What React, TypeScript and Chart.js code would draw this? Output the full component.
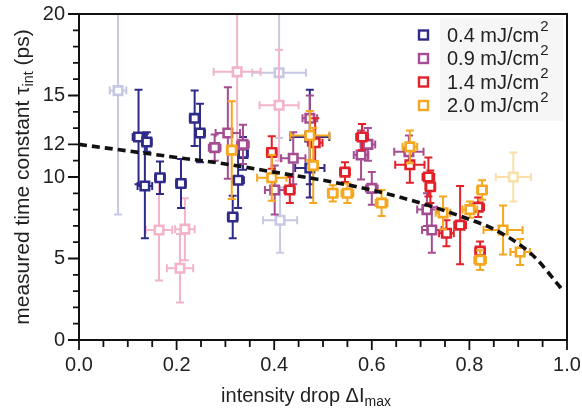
import React, { useEffect, useRef } from "react";
import { Chart, registerables } from "chart.js";
Chart.register(...registerables);

const FONT = "'Liberation Sans', Arial, sans-serif";

const seriesLabels = ["0.4 mJ/cm", "0.9 mJ/cm", "1.4 mJ/cm", "2.0 mJ/cm"];
const seriesColors = ["#2f2b88", "#a54d93", "#e2202a", "#f5a71f"];
const fadedColors = ["#c7c9e4", "#f3b4ca", "#f8e0a8"];

// [x, y, xErr, yErr]
const pts04 = [
  [0.122, 12.45, 0.012, 2.9],
  [0.139, 12.15, 0.01, 0.6],
  [0.135, 9.45, 0.015, 3.2],
  [0.166, 9.95, 0.01, 1.0],
  [0.209, 9.6, 0.01, 1.5],
  [0.237, 13.6, 0.01, 1.7],
  [0.248, 12.7, 0.01, 1.8],
  [0.315, 7.55, 0.01, 1.3],
  [0.326, 9.8, 0.012, 1.7],
  [0.336, 11.45, 0.01, 1.0],
  [0.473, 12.45, 0.04, 2.9],
  [0.473, 10.55, 0.03, 1.8],
];
const pts09 = [
  [0.278, 11.8, 0.012, 0.8],
  [0.305, 12.7, 0.025, 2.8],
  [0.336, 12.0, 0.012, 1.2],
  [0.401, 9.2, 0.02, 1.5],
  [0.439, 11.15, 0.025, 1.6],
  [0.473, 13.6, 0.015, 1.4],
  [0.578, 11.35, 0.015, 1.5],
  [0.592, 12.0, 0.015, 1.0],
  [0.6, 9.3, 0.012, 1.0],
  [0.676, 11.55, 0.03, 1.0],
  [0.713, 8.0, 0.02, 1.0],
  [0.723, 6.75, 0.02, 1.4],
];
const pts14 = [
  [0.395, 11.5, 0.01, 1.0],
  [0.432, 9.2, 0.01, 0.8],
  [0.484, 12.1, 0.015, 1.5],
  [0.58, 12.45, 0.012, 0.8],
  [0.545, 10.3, 0.01, 0.6],
  [0.678, 10.75, 0.03, 1.1],
  [0.716, 10.0, 0.012, 1.2],
  [0.72, 9.4, 0.01, 1.0],
  [0.753, 6.55, 0.015, 0.8],
  [0.781, 7.05, 0.012, 2.4],
  [0.818, 8.15, 0.012, 0.6],
  [0.822, 5.45, 0.01, 0.6],
];
const pts20 = [
  [0.313, 11.65, 0.01, 3.0],
  [0.395, 9.95, 0.03, 1.4],
  [0.473, 12.55, 0.04, 1.5],
  [0.48, 10.7, 0.01, 2.3],
  [0.52, 9.0, 0.01, 0.5],
  [0.55, 9.0, 0.012, 0.6],
  [0.62, 8.4, 0.012, 0.8],
  [0.678, 11.85, 0.015, 1.0],
  [0.746, 7.8, 0.015, 1.0],
  [0.801, 8.0, 0.015, 0.5],
  [0.826, 9.2, 0.01, 0.6],
  [0.822, 4.9, 0.012, 0.6],
  [0.869, 6.75, 0.04, 1.5],
  [0.904, 5.4, 0.02, 0.8],
];
const faded04 = [
  [0.08, 15.3, 0.017, 7.6],
  [0.41, 16.4, 0.055, 4.0],
  [0.412, 7.35, 0.035, 2.0],
];
const faded09 = [
  [0.164, 6.75, 0.027, 3.1],
  [0.217, 6.8, 0.02, 1.9],
  [0.207, 4.4, 0.027, 2.1],
  [0.324, 16.45, 0.048, 5.0],
  [0.41, 14.4, 0.04, 3.4],
];
const faded20 = [[0.89, 10.0, 0.036, 1.5]];

const fitX = [0, 0.1, 0.2, 0.3, 0.4, 0.5, 0.6, 0.7, 0.8, 0.85, 0.91, 0.94, 0.96, 0.976, 0.99];
const fitY = [12.0, 11.6, 11.2, 10.8, 10.3, 9.8, 9.2, 8.4, 7.4, 6.8, 5.7, 4.9, 4.2, 3.6, 3.1];

const xTicks = [0, 0.2, 0.4, 0.6, 0.8, 1.0];
const yTicks = [0, 5, 10, 12, 15, 20];
const xMinorStep = 0.05;
const yMinorStep = 1;

const toPoints = (arr: number[][]) => arr.map(([x, y, dx, dy]) => ({ x, y, dx, dy }));

const scatterDs = (pts: number[][], color: string) => ({
  type: "scatter" as const,
  data: toPoints(pts),
  borderColor: color,
  backgroundColor: "#ffffff",
  pointStyle: "rect",
  pointRadius: 6,
  pointBorderWidth: 2.6,
  showLine: false,
});

const errorBars = {
  id: "errorBars",
  beforeDatasetDraw(chart: any, args: any) {
    const ds = chart.data.datasets[args.index];
    if (!ds.errBars) return;
    const { ctx, chartArea, scales } = chart;
    const xs = scales.x, ys = scales.y;
    ctx.save();
    ctx.beginPath();
    ctx.rect(chartArea.left, chartArea.top, chartArea.right - chartArea.left, chartArea.bottom - chartArea.top);
    ctx.clip();
    ctx.strokeStyle = ds.borderColor;
    ctx.lineWidth = 2;
    const c = 4;
    ds.data.forEach((p: any) => {
      const px = xs.getPixelForValue(p.x), py = ys.getPixelForValue(p.y);
      const x0 = xs.getPixelForValue(p.x - p.dx), x1 = xs.getPixelForValue(p.x + p.dx);
      const y0 = ys.getPixelForValue(p.y - p.dy), y1 = ys.getPixelForValue(p.y + p.dy);
      ctx.beginPath();
      ctx.moveTo(x0, py); ctx.lineTo(x1, py);
      ctx.moveTo(px, y0); ctx.lineTo(px, y1);
      ctx.moveTo(x0, py - c); ctx.lineTo(x0, py + c);
      ctx.moveTo(x1, py - c); ctx.lineTo(x1, py + c);
      ctx.moveTo(px - c, y0); ctx.lineTo(px + c, y0);
      ctx.moveTo(px - c, y1); ctx.lineTo(px + c, y1);
      ctx.stroke();
    });
    ctx.restore();
  },
};

const decorations = {
  id: "decorations",
  afterDraw(chart: any) {
    const { ctx, chartArea: a, scales } = chart;
    const xs = scales.x, ys = scales.y;
    ctx.save();
    // frame
    ctx.strokeStyle = "#111";
    ctx.lineWidth = 2;
    ctx.strokeRect(a.left, a.top, a.right - a.left, a.bottom - a.top);
    // ticks
    ctx.lineWidth = 1.8;
    ctx.beginPath();
    const nx = Math.round((xs.max - xs.min) / xMinorStep);
    for (let i = 0; i <= nx; i++) {
      const v = xs.min + i * xMinorStep;
      const major = xTicks.some((t) => Math.abs(t - v) < 1e-6);
      const px = xs.getPixelForValue(v);
      ctx.moveTo(px, a.bottom);
      ctx.lineTo(px, a.bottom + (major ? 10 : 7));
    }
    const ny = Math.round((ys.max - ys.min) / yMinorStep);
    for (let i = 0; i <= ny; i++) {
      const v = ys.min + i * yMinorStep;
      const major = yTicks.some((t) => Math.abs(t - v) < 1e-6);
      const py = ys.getPixelForValue(v);
      ctx.moveTo(a.left, py);
      ctx.lineTo(a.left - (major ? 11 : 6), py);
    }
    ctx.stroke();

    // axis titles
    ctx.fillStyle = "#222";
    // x title
    {
      const big = 20, small = 14;
      const parts = [
        { t: "intensity drop \u0394I", s: false },
        { t: "max", s: true },
      ];
      let w = 0;
      parts.forEach((p) => {
        ctx.font = `${p.s ? small : big}px ${FONT}`;
        w += ctx.measureText(p.t).width;
      });
      let x = 306 - w / 2;
      const y = 402;
      ctx.textBaseline = "alphabetic";
      ctx.textAlign = "left";
      parts.forEach((p) => {
        ctx.font = `${p.s ? small : big}px ${FONT}`;
        ctx.fillText(p.t, x, y + (p.s ? 4 : 0));
        x += ctx.measureText(p.t).width;
      });
    }
    // y title
    {
      const big = 21, small = 14.5;
      const parts = [
        { t: "measured time constant \u03c4", s: false },
        { t: "int", s: true },
        { t: " (ps)", s: false },
      ];
      let w = 0;
      parts.forEach((p) => {
        ctx.font = `${p.s ? small : big}px ${FONT}`;
        w += ctx.measureText(p.t).width;
      });
      ctx.save();
      ctx.translate(29, 177);
      ctx.rotate(-Math.PI / 2);
      let x = -w / 2;
      ctx.textBaseline = "alphabetic";
      ctx.textAlign = "left";
      parts.forEach((p) => {
        ctx.font = `${p.s ? small : big}px ${FONT}`;
        ctx.fillText(p.t, x, p.s ? 4 : 0);
        x += ctx.measureText(p.t).width;
      });
      ctx.restore();
    }

    // legend
    ctx.fillStyle = "rgba(0,0,0,0.035)";
    ctx.fillRect(440, 18, 123, 103);
    const rowY = [35, 58.5, 82, 105.5];
    seriesLabels.forEach((lab, i) => {
      const y = rowY[i];
      ctx.strokeStyle = seriesColors[i];
      ctx.lineWidth = 2.4;
      ctx.fillStyle = "#fff";
      ctx.fillRect(419, y - 4.5, 9, 9);
      ctx.strokeRect(419, y - 4.5, 9, 9);
      ctx.fillStyle = "#222";
      ctx.font = `20px ${FONT}`;
      ctx.textBaseline = "middle";
      ctx.textAlign = "left";
      ctx.fillText(lab, 447, y + 1);
      const w = ctx.measureText(lab).width;
      ctx.font = `15px ${FONT}`;
      ctx.fillText("2", 447 + w + 1, y - 8);
    });
    ctx.restore();
  },
};

export default function App() {
  const ref = useRef<HTMLCanvasElement | null>(null);
  useEffect(() => {
    if (!ref.current) return;
    const fitData = fitX.map((x, i) => ({ x, y: fitY[i] }));
    const mk = (pts: number[][], color: string) => ({ ...scatterDs(pts, color), errBars: true });
    const chart = new Chart(ref.current, {
      type: "scatter",
      data: {
        datasets: [
          {
            type: "line",
            data: fitData,
            borderColor: "#111",
            borderWidth: 3.6,
            borderDash: [8, 5],
            pointRadius: 0,
            fill: false,
            cubicInterpolationMode: "monotone",
          } as any,
          mk(pts20, seriesColors[3]),
          mk(pts14, seriesColors[2]),
          mk(pts09, seriesColors[1]),
          mk(pts04, seriesColors[0]),
          mk(faded20, fadedColors[2]),
          mk(faded09, fadedColors[1]),
          mk(faded04, fadedColors[0]),
        ] as any,
      },
      options: {
        responsive: false,
        animation: false,
        layout: { padding: { top: 14, right: 15, left: 0, bottom: 0 } },
        plugins: { legend: { display: false }, tooltip: { enabled: false } },
        scales: {
          x: {
            type: "linear",
            min: 0,
            max: 1,
            afterFit(s: any) { s.height = 72; s.paddingLeft = 0; s.paddingRight = 0; },
            afterBuildTicks(s: any) { s.ticks = xTicks.map((v) => ({ value: v })); },
            grid: { display: false, drawTicks: false },
            border: { display: false },
            ticks: {
              font: { family: FONT, size: 20 },
              color: "#222",
              padding: 13,
              maxRotation: 0,
              autoSkip: false,
              callback: (v: any) => Number(v).toFixed(1),
            },
          },
          y: {
            type: "linear",
            min: 0,
            max: 20,
            afterFit(s: any) { s.width = 79; s.paddingTop = 0; s.paddingBottom = 0; },
            afterBuildTicks(s: any) { s.ticks = yTicks.map((v) => ({ value: v })); },
            grid: { display: false, drawTicks: false },
            border: { display: false },
            ticks: {
              font: { family: FONT, size: 20 },
              color: "#222",
              padding: 14,
              autoSkip: false,
              callback: (v: any) => String(v),
            },
          },
        },
      } as any,
      plugins: [errorBars, decorations],
    });
    return () => chart.destroy();
  }, []);
  return (
    <div style={{ position: "fixed", left: 0, top: 0, width: 582, height: 412, background: "#fff" }}>
      <canvas ref={ref} width={582} height={412} style={{ width: 582, height: 412 }} />
    </div>
  );
}
